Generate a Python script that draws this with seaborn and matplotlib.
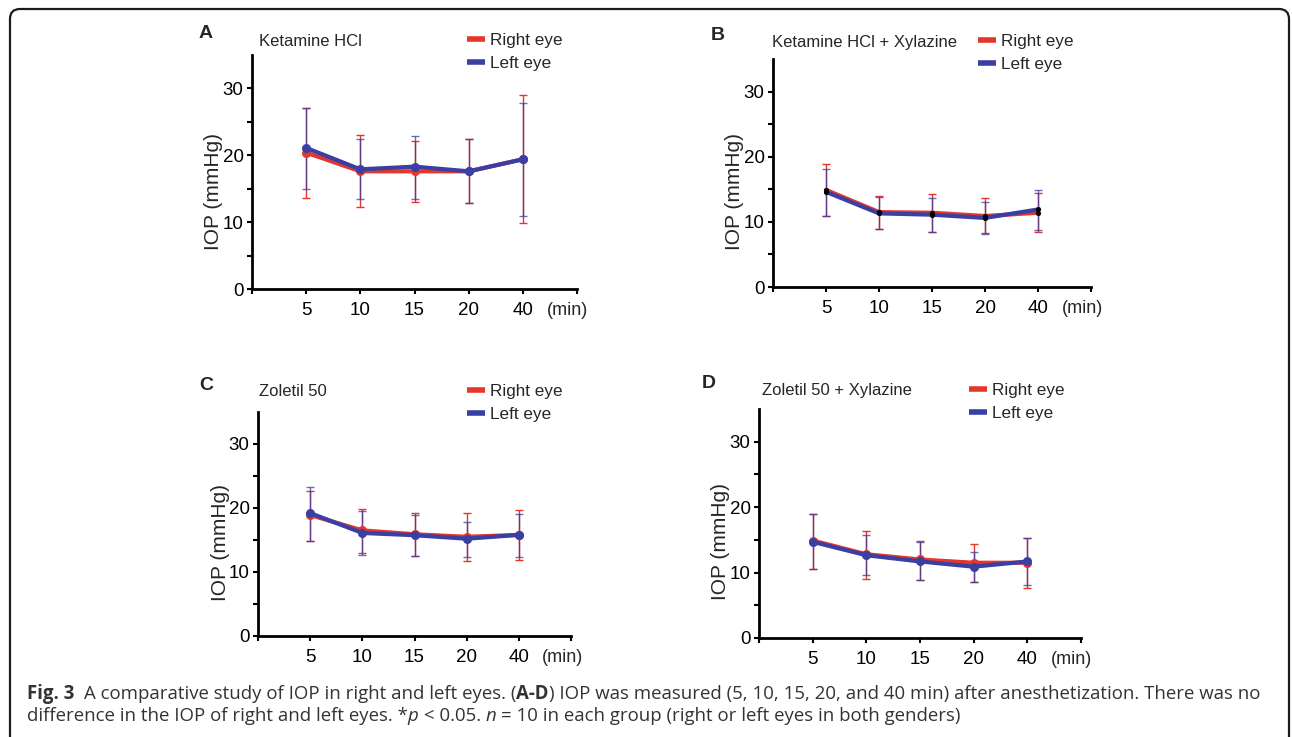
import numpy as np
import pandas as pd
import matplotlib
matplotlib.use("Agg")
import matplotlib.pyplot as plt
import seaborn as sns
from matplotlib.lines import Line2D
from matplotlib.patches import FancyBboxPatch

# ---------------- data ----------------
times = ["5", "10", "15", "20", "40"]
eyes = ["Right eye", "Left eye"]

A_right_mean = [20.4, 17.6, 17.6, 17.6, 19.4]
A_right_low = [13.6, 12.2, 13.0, 12.8, 9.8]
A_right_high = [27.0, 23.0, 22.1, 22.5, 29.0]
A_left_mean = [21.1, 17.9, 18.3, 17.6, 19.4]
A_left_low = [15.0, 13.4, 13.5, 12.8, 10.9]
A_left_high = [27.0, 22.4, 22.9, 22.5, 27.8]

B_right_mean = [14.9, 11.5, 11.4, 10.9, 11.4]
B_right_low = [10.9, 8.9, 8.4, 8.3, 8.4]
B_right_high = [18.9, 13.9, 14.2, 13.7, 14.4]
B_left_mean = [14.6, 11.3, 11.1, 10.6, 11.9]
B_left_low = [10.9, 8.9, 8.4, 8.1, 8.7]
B_left_high = [18.1, 13.8, 13.7, 13.1, 14.9]

C_right_mean = [18.9, 16.5, 15.9, 15.5, 15.8]
C_right_low = [14.9, 13.0, 12.5, 11.7, 11.8]
C_right_high = [22.6, 19.9, 19.2, 19.2, 19.7]
C_left_mean = [19.2, 16.1, 15.75, 15.2, 15.8]
C_left_low = [14.9, 12.6, 12.5, 12.4, 12.4]
C_left_high = [23.3, 19.6, 18.9, 17.8, 19.0]

D_right_mean = [14.9, 12.8, 12.0, 11.5, 11.5]
D_right_low = [10.6, 9.0, 8.85, 8.55, 7.6]
D_right_high = [18.9, 16.4, 14.9, 14.3, 15.3]
D_left_mean = [14.7, 12.65, 11.7, 10.9, 11.7]
D_left_low = [10.6, 9.7, 8.85, 8.55, 8.1]
D_left_high = [18.9, 15.8, 14.6, 13.15, 15.3]

panel_letters = ["A", "B", "C", "D"]
panel_titles = ["Ketamine HCl", "Ketamine HCl + Xylazine", "Zoletil 50", "Zoletil 50 + Xylazine"]
y_ticks = [0, 10, 20, 30]
y_label = "IOP (mmHg)"
x_unit = "(min)"

panels_data = [
    (A_right_mean, A_right_low, A_right_high, A_left_mean, A_left_low, A_left_high),
    (B_right_mean, B_right_low, B_right_high, B_left_mean, B_left_low, B_left_high),
    (C_right_mean, C_right_low, C_right_high, C_left_mean, C_left_low, C_left_high),
    (D_right_mean, D_right_low, D_right_high, D_left_mean, D_left_low, D_left_high),
]

# ---------------- style ----------------
sns.set_style("ticks")
FONT = ["Liberation Sans", "DejaVu Sans"]
plt.rcParams["font.family"] = FONT
RED = "#e5362c"
BLUE = "#3a3fa3"
pal = {"Right eye": RED, "Left eye": BLUE}

W, H, DPI = 1292, 737, 100
fig = plt.figure(figsize=(W / DPI, H / DPI), dpi=DPI)
fig.patch.set_facecolor("white")


def fx(px):
    return px / W


def fy(py):
    return 1 - py / H


# layout (pixels): left, right, top, bottom
rects = [(252, 577, 55, 289), (773, 1091, 59, 287), (258, 571, 412, 636), (759, 1081, 409, 638)]
letter_pos = [(206, 34), (718, 35.5), (206, 385.5), (709, 384)]
title_pos = [(259, 41), (772, 42), (259, 392), (762, 391)]
legend_pos = [(467, 33), (978, 34), (467, 384), (969, 383)]
ylabel_y = [0.415, 0.42, 0.418, 0.42]

for i, (l, r, t, b) in enumerate(rects):
    ax = fig.add_axes([fx(l), fy(b), (r - l) / W, (b - t) / H])
    rm, rl, rh, lm, ll, lh = panels_data[i]
    pos = np.arange(len(times))
    rows = []
    for eye, m, lo, hi in [("Right eye", rm, rl, rh), ("Left eye", lm, ll, lh)]:
        for p, tm, mv, lv, hv in zip(pos, times, m, lo, hi):
            rows.append({"pos": p, "time": tm, "eye": eye, "mean": mv, "low": lv, "high": hv})
    df = pd.DataFrame(rows)

    # error bars
    for eye, alpha in [("Right eye", 1.0), ("Left eye", 0.75)]:
        d = df[df.eye == eye]
        ax.errorbar(d["pos"], d["mean"],
                    yerr=[d["mean"] - d["low"], d["high"] - d["mean"]],
                    fmt="none", ecolor=pal[eye], elinewidth=1.0, capsize=2.8,
                    capthick=1.0, alpha=alpha, zorder=2)

    if i == 1:
        sns.lineplot(data=df, x="pos", y="mean", hue="eye", hue_order=eyes, palette=pal,
                     linewidth=3.0, legend=False, ax=ax, errorbar=None, zorder=3)
        sns.scatterplot(data=df, x="pos", y="mean", color="black", s=14, linewidth=0,
                        legend=False, ax=ax, zorder=4)
    else:
        sns.lineplot(data=df, x="pos", y="mean", hue="eye", hue_order=eyes, palette=pal,
                     linewidth=3.0, marker="o", markersize=6.5, markeredgewidth=0,
                     legend=False, ax=ax, errorbar=None, zorder=3)

    ax.set_xlim(-1, 5)
    ax.set_ylim(0, 35)
    ax.set_xticks(np.arange(-1, len(times) + 1))
    ax.set_xticklabels([""] + times + [""], fontsize=13.5)
    ax.set_yticks(y_ticks)
    ax.set_yticks([5, 15, 25], minor=True)
    ax.set_yticklabels([str(v) for v in y_ticks], fontsize=13.5)
    ax.tick_params(axis="x", which="major", direction="out", length=3.5, width=1.5, pad=6, colors="black")
    ax.tick_params(axis="y", which="both", direction="out", length=3.5, width=1.5, pad=2.5, colors="black")
    for s in ["top", "right"]:
        ax.spines[s].set_visible(False)
    for s in ["left", "bottom"]:
        ax.spines[s].set_linewidth(2.0)
        ax.spines[s].set_color("black")
    ax.set_xlabel("")
    ax.set_ylabel(y_label, fontsize=15)
    ax.yaxis.set_label_coords(-0.09, ylabel_y[i])
    ax.annotate(x_unit, xy=(0.972, 0), xycoords="axes fraction", xytext=(0, -9.5),
                textcoords="offset points", ha="center", va="top", fontsize=13)
    ax.set_facecolor("none")

    # letter & title
    lx, ly = letter_pos[i]
    fig.text(fx(lx), fy(ly), panel_letters[i], fontsize=14, fontweight="bold",
             ha="center", va="center")
    tx, ty = title_pos[i]
    fig.text(fx(tx), fy(ty), panel_titles[i], fontsize=12, ha="left", va="center")

    # legend
    handles = [Line2D([], [], color=pal[e], lw=4, solid_capstyle="butt") for e in eyes]
    gx, gy = legend_pos[i]
    ax.legend(handles, eyes, loc="upper left", bbox_to_anchor=(fx(gx), fy(gy)),
              bbox_transform=fig.transFigure, frameon=False, borderpad=0,
              borderaxespad=0, handlelength=1.05, handletextpad=0.3,
              labelspacing=0.45, fontsize=12.3)

# ---------------- border ----------------
border = FancyBboxPatch((10 / DPI, (H - 748) / DPI), (1289 - 10) / DPI, (748 - 9) / DPI,
                        boxstyle="round,pad=0,rounding_size=0.1",
                        transform=fig.dpi_scale_trans, fill=False, lw=1.6,
                        ec="#1c1c1c", clip_on=False)
fig.add_artist(border)

# ---------------- caption ----------------
CAP_FONT = ["Open Sans", "DejaVu Sans"]
CAP_COLOR = "#333333"
line1 = [("Fig. 3", "bold", "normal"),
         ("  A comparative study of IOP in right and left eyes. (", "normal", "normal"),
         ("A-D", "bold", "normal"),
         (") IOP was measured (5, 10, 15, 20, and 40 min) after anesthetization. There was no", "normal", "normal")]
line2 = [("difference in the IOP of right and left eyes. *", "normal", "normal"),
         ("p", "normal", "italic"),
         (" < 0.05. ", "normal", "normal"),
         ("n", "normal", "italic"),
         (" = 10 in each group (right or left eyes in both genders)", "normal", "normal")]

renderer = fig.canvas.get_renderer()


def text_w(s, size, weight="normal", style="normal"):
    t = fig.text(0, 0, s, fontsize=size, fontweight=weight, fontstyle=style, family=CAP_FONT)
    w = t.get_window_extent(renderer).width
    t.remove()
    return w


def space_w(size, weight, style):
    return text_w("x x", size, weight, style) - text_w("xx", size, weight, style)


def draw_line(segs, x0, ybase, size, draw=True):
    x = x0
    for s, weight, style in segs:
        core = s.strip(" ")
        lead = len(s) - len(s.lstrip(" "))
        trail = len(s) - len(s.rstrip(" "))
        sw = space_w(size, weight, style)
        x += lead * sw
        if core:
            if draw:
                t = fig.text(fx(x), fy(ybase), core, fontsize=size, fontweight=weight,
                             fontstyle=style, family=CAP_FONT, color=CAP_COLOR,
                             ha="left", va="baseline")
                w = t.get_window_extent(renderer).width
            else:
                w = text_w(core, size, weight, style)
            x += w
        x += trail * sw
    return x - x0


w10 = draw_line(line1, 0, 0, 10, draw=False)
cap_size = 10 * (1262 - 27) / w10
draw_line(line1, 27, 699, cap_size)
draw_line(line2, 27, 721, cap_size)

fig.savefig("out.png", dpi=DPI)
